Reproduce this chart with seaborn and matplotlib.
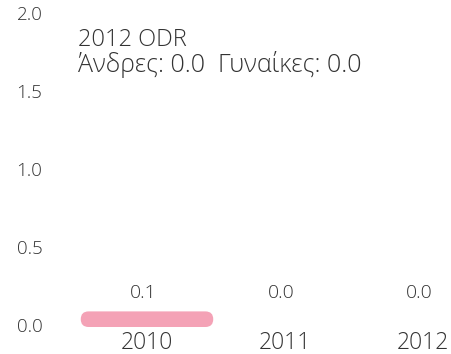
import matplotlib
matplotlib.use("Agg")
import matplotlib.pyplot as plt
from matplotlib.patches import FancyBboxPatch
import seaborn as sns
import pandas as pd

# Data
years = ["2010", "2011", "2012"]
values = [0.1, 0.0, 0.0]
y_ticks = [0.0, 0.5, 1.0, 1.5, 2.0]
title_year = "2012"
metric = "ODR"
men_value = 0.0
women_value = 0.0

BAR_COLOR = "#F4A2B6"
TEXT_COLOR = "#333333"

sns.set_style("white")
plt.rcParams["font.family"] = ["Open Sans", "DejaVu Sans"]
plt.rcParams["font.weight"] = "light"

W, H, DPI = 451, 354, 100
fig = plt.figure(figsize=(W / DPI, H / DPI), dpi=DPI)

# axes geometry in pixels
ax_left_px, ax_right_px = 55, 451
ax_bottom_px, ax_top_px = 354 - 327, 354 - 15
ax = fig.add_axes([ax_left_px / W, ax_bottom_px / H,
                   (ax_right_px - ax_left_px) / W, (ax_top_px - ax_bottom_px) / H])

df = pd.DataFrame({"year": years, "value": values})
sns.barplot(data=df, x="year", y="value", color=BAR_COLOR, width=0.96,
            saturation=1, ax=ax, zorder=3)

px_per_x = 138.0
xmin = -(147 - ax_left_px) / px_per_x
xmax = xmin + (ax_right_px - ax_left_px) / px_per_x
ax.set_xlim(xmin, xmax)
ax.set_ylim(0, 2.0)
px_per_y = (ax_top_px - ax_bottom_px) / 2.0

# turn the rectangular bars into pill shapes
aspect = (1 / px_per_y) / (1 / px_per_x)
for p in list(ax.patches):
    x0, y0 = p.get_x(), p.get_y()
    w, h = p.get_width(), p.get_height()
    p.remove()
    if h <= 0:
        continue
    r = min(h / 2 / aspect, w / 2)
    ax.add_patch(FancyBboxPatch((x0, y0), w, h,
                                boxstyle=f"round,pad=0,rounding_size={r}",
                                mutation_aspect=aspect, facecolor=BAR_COLOR,
                                edgecolor="none", zorder=3))

# value labels above each category
for i, v in enumerate(values):
    ax.text(i - 0.03, 0.215, f"{v:.1f}", ha="center", va="center",
            fontsize=14, color=TEXT_COLOR)

ax.set_xlabel("")
ax.set_ylabel("")
ax.set_yticks(y_ticks)
ax.set_yticklabels([f"{t:.1f}" for t in y_ticks])
ax.tick_params(axis="y", length=0, pad=9, labelsize=13.5, labelcolor=TEXT_COLOR)
ax.tick_params(axis="x", length=0, pad=3, labelsize=16.5, labelcolor=TEXT_COLOR)
for lab in ax.get_yticklabels():
    lab.set_verticalalignment("center")
for s in ax.spines.values():
    s.set_visible(False)
ax.grid(False)
ax.set_facecolor("none")

fig.text(78 / W, 1 - 40 / H, f"{title_year} {metric}", ha="left", va="center",
         fontsize=17, color=TEXT_COLOR)
fig.text(78 / W, 1 - 64 / H,
         f"Άνδρες: {men_value:.1f}  Γυναίκες: {women_value:.1f}",
         ha="left", va="center", fontsize=18, color=TEXT_COLOR)

fig.savefig("out.png", dpi=DPI)
